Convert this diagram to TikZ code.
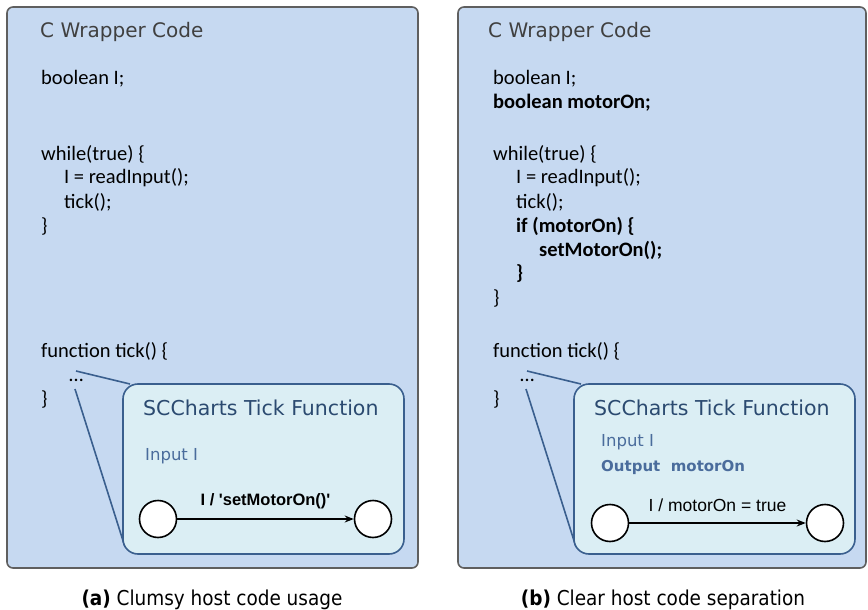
\documentclass[tikz,border=0pt]{standalone}
\usepackage{fontspec}
\setmainfont{Carlito}
\newfontfamily\hdrfont{DejaVu Sans}
\newfontfamily\lblfont{Liberation Sans}
\newfontfamily\capfont{DejaVu Sans Condensed}
\usetikzlibrary{arrows.meta}
\definecolor{outerfill}{HTML}{C6D9F1}
\definecolor{outerdraw}{HTML}{5F5F5F}
\definecolor{innerfill}{HTML}{DBEEF4}
\definecolor{innerdraw}{HTML}{3A5F8E}
\definecolor{hdrcol}{HTML}{404040}
\definecolor{tickcol}{HTML}{2B4A70}
\definecolor{inputcol}{HTML}{4A6C9C}
\tikzset{
  outerbox/.style={draw=outerdraw, fill=outerfill, line width=1.6pt, rounded corners=6pt},
  innerbox/.style={draw=innerdraw, fill=innerfill, line width=1.6pt, rounded corners=15pt},
  hdr/.style={anchor=west, inner sep=0pt, text=hdrcol, font=\hdrfont\fontsize{20}{22}\selectfont},
  tickhdr/.style={anchor=west, inner sep=0pt, text=tickcol, font=\hdrfont\fontsize{20.5}{22}\selectfont},
  code/.style={anchor=west, inner sep=0pt, font=\fontsize{20.5}{22}\selectfont},
  dots/.style={anchor=base west, inner sep=0pt, font=\fontsize{20.5}{22}\selectfont},
  sig/.style={anchor=west, inner sep=0pt, text=inputcol, font=\hdrfont\fontsize{16.5}{18}\selectfont},
  sigbold/.style={anchor=west, inner sep=0pt, text=inputcol, font=\hdrfont\bfseries\fontsize{15}{18}\selectfont},
  state/.style={circle, draw=black, fill=white, line width=1.6pt, minimum size=37pt, inner sep=0pt},
  trans/.style={-{Stealth[length=9pt,width=7pt]}, line width=1.6pt},
  translbl/.style={inner sep=0pt, font=\lblfont\fontsize{17.5}{18}\selectfont},
  zoomline/.style={draw=innerdraw, line width=1.6pt},
  caption/.style={inner sep=0pt, font=\capfont\fontsize{20.5}{22}\selectfont}
}
\begin{document}
\begin{tikzpicture}[x=1pt,y=-1pt]
\useasboundingbox (0,0) rectangle (868,610);

% ---------------- Left panel ----------------
\draw[outerbox] (7,7) rectangle (418,568);
\node[hdr] (lhdr) at (40,32) {C Wrapper Code};
\node[code] (l1) at (41,79) {boolean I;};
\node[code] (l2) at (41,154) {while(true) \{};
\node[code] (l3) at (64,178) {I = readInput();};
\node[code] (l4) at (64,202) {tick();};
\node[code] (l5) at (41,226) {\}};
\node[code] (l6) at (41,351) {function tick() \{};
\node[dots] (l7) at (69,381) {\dots};
\node[code] (l8) at (41,399) {\}};

\coordinate (lz1) at (76,371);
\coordinate (lz2) at (75,389);
\coordinate (lc1) at (130,384);
\coordinate (lc2) at (125,547);
\draw[zoomline] (lz1) -- (lc1);
\draw[zoomline] (lz2) -- (lc2);

\draw[innerbox] (123,384) rectangle (404,554);
\node[tickhdr] (lt) at (143,408) {SCCharts Tick Function};
\node[sig] (li) at (145,456) {Input I};
\node[state] (ls1) at (158,519) {};
\node[state] (ls2) at (373,519) {};
\draw[trans] (ls1) -- node[translbl, font=\lblfont\bfseries\fontsize{16.5}{18}\selectfont, above=9pt] {I / 'setMotorOn()'} (ls2);

\node[caption] (lcap) at (212,600) {\textbf{(a)} Clumsy host code usage};

% ---------------- Right panel ----------------
\draw[outerbox] (458,7) rectangle (866,568);
\node[hdr] (rhdr) at (488,32) {C Wrapper Code};
\node[code] (r1) at (493,79) {boolean I;};
\node[code] (r2) at (493,103) {\bfseries boolean motorOn;};
\node[code] (r3) at (493,154) {while(true) \{};
\node[code] (r4) at (516,178) {I = readInput();};
\node[code] (r5) at (516,202) {tick();};
\node[code] (r6) at (516,226) {\bfseries if (motorOn) \{};
\node[code] (r7) at (539,250) {\bfseries setMotorOn();};
\node[code] (r8) at (516,274) {\bfseries \}};
\node[code] (r9) at (493,298) {\}};
\node[code] (r10) at (493,351) {function tick() \{};
\node[dots] (r11) at (520,381) {\dots};
\node[code] (r12) at (493,399) {\}};

\coordinate (rz1) at (527,371);
\coordinate (rz2) at (526,389);
\coordinate (rc1) at (581,384);
\coordinate (rc2) at (576,547);
\draw[zoomline] (rz1) -- (rc1);
\draw[zoomline] (rz2) -- (rc2);

\draw[innerbox] (574,384) rectangle (855,554);
\node[tickhdr] (rt) at (594,408) {SCCharts Tick Function};
\node[sig] (ri) at (601,442) {Input I};
\node[sigbold] (ro) at (601,467) {Output~ motorOn};
\node[state] (rs1) at (610,523) {};
\node[state] (rs2) at (825,523) {};
\draw[trans] (rs1) -- node[translbl, above=11pt] {I / motorOn = true} (rs2);

\node[caption] (rcap) at (663,600) {\textbf{(b)} Clear host code separation};
\end{tikzpicture}
\end{document}
